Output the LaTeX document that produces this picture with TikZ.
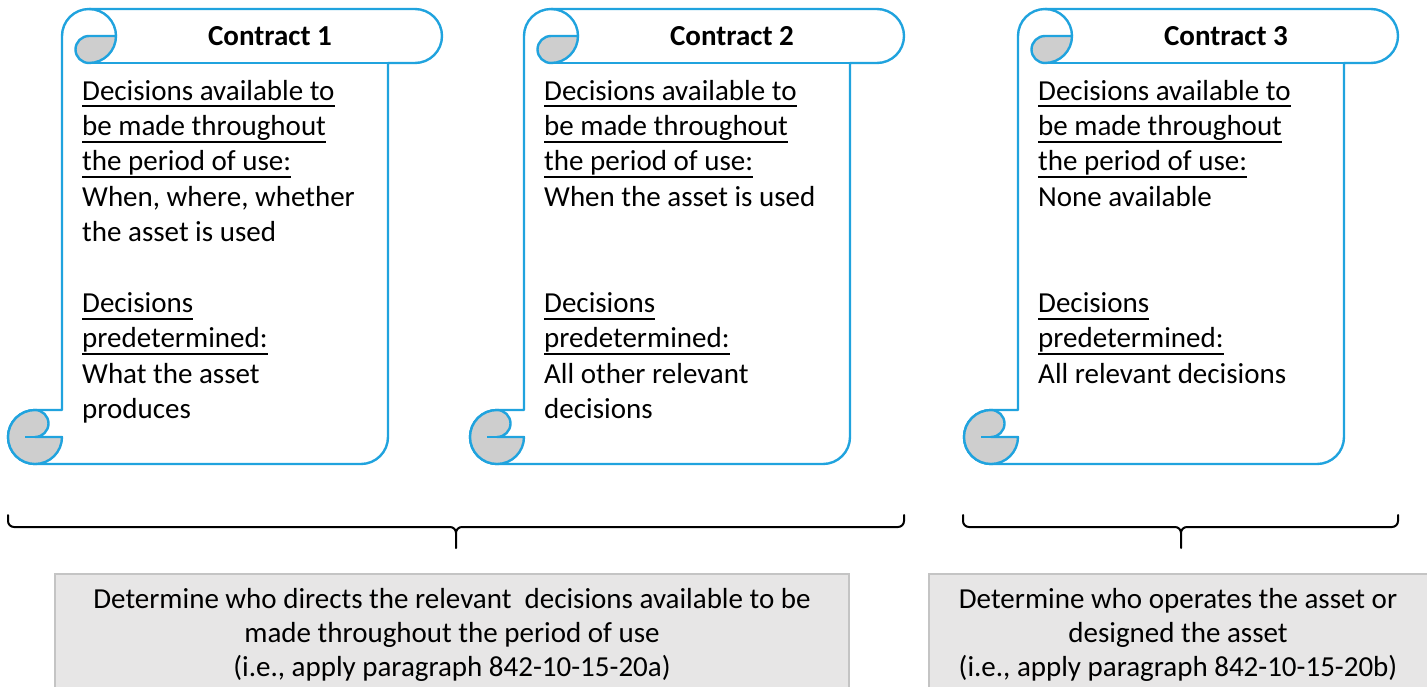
\documentclass[tikz,border=0pt]{standalone}
\usepackage{fontspec}
\setmainfont{Carlito}
\definecolor{scrollblue}{RGB}{32,163,222}
\definecolor{curlgray}{RGB}{206,206,206}
\definecolor{boxgray}{RGB}{231,230,230}
\definecolor{boxedge}{RGB}{196,196,196}
% underline at a fixed depth, independent of descenders
\newcommand\ulx[1]{\leavevmode\sbox0{#1}\rlap{\rule[-7pt]{\wd0}{1.8pt}}\usebox0}

\tikzset{
  scrollline/.style={draw=scrollblue, line width=2.4pt, line join=round},
  curl/.style={scrollline, fill=curlgray},
  bodytext/.style={font=\fontsize{29pt}{35.4pt}\selectfont, align=left, anchor=north west, inner sep=0pt},
  titletext/.style={font=\fontsize{29pt}{35.4pt}\selectfont\bfseries, anchor=base, inner sep=0pt},
  notebox/.style={draw=boxedge, fill=boxgray, line width=1.2pt},
  notetext/.style={font=\fontsize{29pt}{34pt}\selectfont, align=center, anchor=north, inner sep=0pt},
  bracket/.style={draw=black, line width=2pt, line join=round, line cap=round},
  % vertical scroll: top-left corner at the pic origin, 434 wide, 455 high
  scroll/.pic={
    \path[scrollline, fill=white] (54,-27) arc[start angle=180, end angle=90, radius=27]
      -- (407,0) arc[start angle=90, end angle=-90, radius=27]
      -- (380,-54) -- (380,-428) arc[start angle=0, end angle=-90, radius=27]
      -- (27,-455) arc[start angle=-90, end angle=-270, radius=27]
      -- (54,-401) -- cycle;
    % lower roll
    \path[curl] (54,-428) arc[start angle=0, end angle=-270, radius=27]
      arc[start angle=90, end angle=-90, radius=13.5] -- cycle;
    \draw[scrollline] (17,-428) -- (27,-428);
    % upper roll
    \path[curl] (81,-27) -- (108,-27) arc[start angle=0, end angle=-90, radius=27]
      arc[start angle=-90, end angle=-270, radius=13.5] -- cycle;
    \draw[scrollline] (81,0) arc[start angle=90, end angle=0, radius=27];
    \draw[scrollline] (81,-54) -- (380,-54);
  }
}

\begin{document}
\begin{tikzpicture}[x=1pt, y=1pt]
\useasboundingbox (0,0) rectangle (1427,-686);
\begin{scope}
\clip (0,0) rectangle (1427,-686);

% scrolls
\pic (s1) at (8,-9) {scroll};
\pic (s2) at (470,-9) {scroll};
\pic (s3) at (964,-9) {scroll};

\node[titletext] (t1) at (270,-45) {Contract 1};
\node[titletext] (t2) at (732,-45) {Contract 2};
\node[titletext] (t3) at (1226,-45) {Contract 3};

\node[bodytext] (b1) at (82,-75.2) {\strut\ulx{Decisions available to}\\\ulx{be made throughout}\\\ulx{the period of use:}\\When, where, whether\\the asset is used\\[35.4pt]\ulx{Decisions}\\\ulx{predetermined:}\\What the asset\\produces};
\node[bodytext] (b2) at (544,-75.2) {\strut\ulx{Decisions available to}\\\ulx{be made throughout}\\\ulx{the period of use:}\\When the asset is used\\[70.8pt]\ulx{Decisions}\\\ulx{predetermined:}\\All other relevant\\decisions};
\node[bodytext] (b3) at (1038,-75.2) {\strut\ulx{Decisions available to}\\\ulx{be made throughout}\\\ulx{the period of use:}\\None available\\[70.8pt]\ulx{Decisions}\\\ulx{predetermined:}\\All relevant decisions};

% braces
\coordinate (g1l) at (8,-515);
\coordinate (g1r) at (904,-515);
\coordinate (g1m) at (456,-548);
\coordinate (g2l) at (963,-515);
\coordinate (g2r) at (1398,-515);
\coordinate (g2m) at (1181,-548);
\draw[bracket] (g1l) -- ++(0,-6) arc[start angle=180, end angle=270, radius=6]
  -- ([xshift=-6pt]g1m |- 0,-527) arc[start angle=90, end angle=0, radius=6] -- (g1m);
\draw[bracket] (g1r) -- ++(0,-6) arc[start angle=0, end angle=-90, radius=6]
  -- ([xshift=6pt]g1m |- 0,-527) arc[start angle=90, end angle=180, radius=6];
\draw[bracket] (g2l) -- ++(0,-6) arc[start angle=180, end angle=270, radius=6]
  -- ([xshift=-6pt]g2m |- 0,-527) arc[start angle=90, end angle=0, radius=6] -- (g2m);
\draw[bracket] (g2r) -- ++(0,-6) arc[start angle=0, end angle=-90, radius=6]
  -- ([xshift=6pt]g2m |- 0,-527) arc[start angle=90, end angle=180, radius=6];

% outcome boxes
\path[notebox] (55,-574) rectangle (849,-700);
\path[notebox] (929,-574) rectangle (1440,-700);
\node[notetext] (n1) at (452,-584.2) {\strut Determine who directs the relevant\ \ decisions available to be\\made throughout the period of use\\(i.e., apply paragraph 842-10-15-20a)};
\node[notetext] (n2) at (1178,-584.2) {\strut Determine who operates the asset or\\designed the asset\\(i.e., apply paragraph 842-10-15-20b)};
\end{scope}
\end{tikzpicture}
\end{document}
